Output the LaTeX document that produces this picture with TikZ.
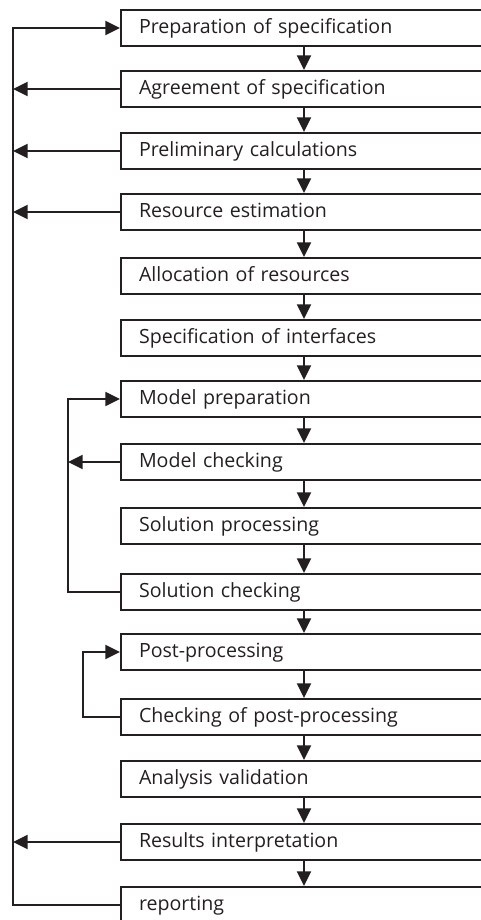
\documentclass[tikz,border=0pt]{standalone}
\usepackage{fontspec}
\setmainfont{Open Sans}
\usetikzlibrary{arrows.meta}
\definecolor{ink}{HTML}{231F20}
\begin{document}
\begin{tikzpicture}[x=0.75pt,y=-0.75pt,
  stepbox/.style={draw=ink, line width=1.5pt, anchor=north west,
    minimum height=27pt, text width=288pt, inner xsep=13.5pt, inner ysep=0pt,
    align=left, text=ink, font=\fontsize{14.7pt}{17pt}\selectfont,
    text height=1.05em, text depth=0.25em},
  link/.style={draw=ink, line width=1.5pt},
  arr/.style={link, -{Triangle[length=11pt,width=10.5pt]}}]
\useasboundingbox (0,0) rectangle (481,920);
\clip (0,0) rectangle (481,920);

% process steps
\node[stepbox] (b1)  at (120,9)   {Preparation of specification};
\node[stepbox] (b2)  at (120,70)  {Agreement of specification};
\node[stepbox] (b3)  at (120,132) {Preliminary calculations};
\node[stepbox] (b4)  at (120,193) {Resource estimation};
\node[stepbox] (b5)  at (120,257) {Allocation of resources};
\node[stepbox] (b6)  at (120,319) {Specification of interfaces};
\node[stepbox] (b7)  at (120,380) {Model preparation};
\node[stepbox] (b8)  at (120,443) {Model checking};
\node[stepbox] (b9)  at (120,507) {Solution processing};
\node[stepbox] (b10) at (120,573) {Solution checking};
\node[stepbox] (b11) at (120,633) {Post-processing};
\node[stepbox] (b12) at (120,698) {Checking of post-processing};
\node[stepbox] (b13) at (120,760) {Analysis validation};
\node[stepbox] (b14) at (120,823) {Results interpretation};
\node[stepbox] (b15) at (120,886) {reporting};

% x positions of the flow line and the feedback loops
\coordinate (ax) at (304,0);
\coordinate (L)  at (13,0);
\coordinate (L1) at (68,0);
\coordinate (L2) at (83,0);

% main downward flow
\foreach \a/\b in {b1/b2,b2/b3,b3/b4,b4/b5,b5/b6,b6/b7,b7/b8,b8/b9,b9/b10,b10/b11,b11/b12,b12/b13,b13/b14,b14/b15}
  \draw[arr] (\a.south -| ax) -- (\b.north -| ax);

% outer feedback loop
\draw[arr] (b15.west) -- (b15.west -| L) -- (b1.west -| L) -- (b1.west);
\foreach \n in {b2,b3,b4,b14}
  \draw[arr] (\n.west) -- (\n.west -| L);

% model / solution loop
\draw[arr] (b10.west) -- (b10.west -| L1) -- (b7.west -| L1) -- (b7.west);
\draw[arr] (b8.west) -- (b8.west -| L1);

% post-processing loop
\draw[arr] (b12.west) -- (b12.west -| L2) -- (b11.west -| L2) -- (b11.west);
\end{tikzpicture}
\end{document}
